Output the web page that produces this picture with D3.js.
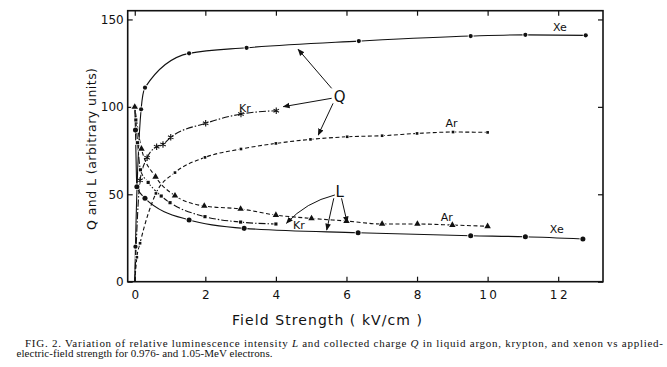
<!DOCTYPE html>
<html>
<head>
<meta charset="utf-8">
<script src="https://cdn.jsdelivr.net/npm/d3@7"></script>
<style>
  body { margin: 0; background: #fff; }
  svg { display: block; }
</style>
</head>
<body>
<div class="container"></div>
<script>
// ---- data (field strength kV/cm, arbitrary units) ----
var xeQx = [0, 0.02, 0.18, 0.29, 1.54, 3.17, 6.35, 9.52, 11.07, 12.78];
var xeQy = [0, 20, 98.6, 111, 130.6, 133.8, 137.6, 140.5, 141.2, 140.9];

var krQx = [0, 0.15, 0.35, 0.62, 0.8, 1.02, 2.01, 3.01, 4.01];
var krQy = [0, 58, 70.9, 77.2, 78.5, 82.6, 90.6, 95.9, 97.8];

var arQx = [0, 0.06, 0.15, 0.6, 1.14, 1.99, 3.01, 4.0, 4.98, 6.02, 7.01, 8.0, 9.02, 10.0];
var arQy = [0, 14, 22, 50.5, 62.4, 71.1, 75.9, 79.1, 81.4, 82.9, 83.5, 84.8, 85.6, 85.4];

var xeLx = [0, 0.02, 0.06, 0.29, 1.54, 3.1, 6.33, 9.52, 11.07, 12.7];
var xeLy = [100, 86.7, 54.3, 47.7, 35.3, 30.5, 28.0, 26.3, 25.7, 24.4];

var krLx = [0, 0.03, 0.08, 0.16, 0.38, 0.75, 1.0, 1.99, 3.0, 4.0];
var krLy = [100, 92.5, 79.5, 64, 56.8, 49, 45.2, 37.2, 34.1, 33.0];

var arLx = [0, 0.19, 0.59, 1.14, 1.97, 3.0, 4.0, 5.01, 6.0, 7.01, 8.01, 9.0, 10.0];
var arLy = [100, 76, 60, 49.2, 43.3, 41.6, 38.1, 36.2, 34.7, 33.0, 33.0, 32.4, 31.7];

var xTicks = [0, 2, 4, 6, 8, 10, 12];
var yTicks = [0, 50, 100, 150];

var labelText = ['Xe', 'Kr', 'Ar', 'Kr', 'Ar', 'Xe'];
var labelX = [12.05, 3.12, 8.98, 4.65, 8.84, 11.96];
var labelY = [145.8, 99.3, 90.7, 32.4, 37.2, 30.1];

// Q and L pointers: letter position, then arrows (from -> to), in data units
var groupText = ['Q', 'L'];
var groupX = [5.81, 5.81];
var groupY = [105.6, 51.5];
var arrowFromX = [5.58, 5.58, 5.62, 5.67, 5.64, 5.86];
var arrowFromY = [110.6, 104.9, 102.0, 49.6, 47.7, 47.7];
var arrowToX = [4.63, 4.21, 5.2, 4.30, 5.44, 6.02];
var arrowToY = [132.9, 100.1, 83.9, 33.4, 29.6, 33.7];
var arrowBendX = [null, null, null, 4.85, null, null];
var arrowBendY = [null, null, null, 45.5, null, null];

const WIDTH = 667;
const HEIGHT = 367;
const INK = '#111';

var zip = function (xs, ys) {
  return xs.map(function (x, i) { return [x, ys[i]]; });
};

var series = [
  { pts: zip(xeQx, xeQy), dash: null, sym: d3.symbolCircle, size: 14, fill: true },
  { pts: zip(krQx, krQy), dash: '7,2,1.5,2', sym: d3.symbolAsterisk, size: 28, fill: false },
  { pts: zip(arQx, arQy), dash: '4,2.5', sym: d3.symbolSquare, size: 7, fill: true },
  { pts: zip(xeLx, xeLy), dash: null, sym: d3.symbolCircle, size: 20, fill: true },
  { pts: zip(krLx, krLy), dash: '7,2,1.5,2', sym: d3.symbolSquare, size: 10, fill: true },
  { pts: zip(arLx, arLy), dash: '4,2.5', sym: d3.symbolTriangle, size: 18, fill: true }
];

var svg = d3.select('.container').append('svg')
    .attr('width', WIDTH)
    .attr('height', HEIGHT)
    .style('background', '#fff');

var x = d3.scaleLinear().domain([-0.2, 13.27]).range([127.7, 603]);
var y = d3.scaleLinear().domain([0, 155]).range([281.7, 10.7]);

svg.append('defs').append('marker')
    .attr('id', 'head')
    .attr('viewBox', '0 0 10 10')
    .attr('refX', 9).attr('refY', 5)
    .attr('markerWidth', 7).attr('markerHeight', 7)
    .attr('markerUnits', 'userSpaceOnUse')
    .attr('orient', 'auto')
  .append('path')
    .attr('d', 'M0,1L10,5L0,9Z')
    .attr('fill', INK);

// axes: ticks inward on all four sides
var axisStyle = function (g) {
  g.select('.domain').remove();
  g.selectAll('line').attr('stroke', INK).attr('stroke-width', 1.2);
  g.selectAll('text')
      .attr('fill', INK)
      .style('font-family', '"DejaVu Sans", sans-serif')
      .style('font-size', '12px');
};

svg.append('g')
    .attr('transform', 'translate(0,' + y(0) + ')')
    .call(d3.axisBottom(x).tickValues(xTicks).tickSize(-5).tickPadding(9)
      .tickFormat(function (d) { return d >= 10 ? String(d).split('').join('\u2009') : d; }))
    .call(axisStyle);

svg.append('g')
    .attr('transform', 'translate(0,' + y(155) + ')')
    .call(d3.axisTop(x).tickValues(xTicks).tickSize(-5).tickFormat(''))
    .call(axisStyle);

svg.append('g')
    .attr('transform', 'translate(' + x(-0.2) + ',0)')
    .call(d3.axisLeft(y).tickValues(yTicks).tickSize(-5).tickPadding(4))
    .call(axisStyle);

svg.append('g')
    .attr('transform', 'translate(' + x(13.27) + ',0)')
    .call(d3.axisRight(y).tickValues(yTicks).tickSize(-5).tickFormat(''))
    .call(axisStyle);

svg.append('rect')
    .attr('x', x(-0.2)).attr('y', y(155))
    .attr('width', x(13.27) - x(-0.2))
    .attr('height', y(0) - y(155))
    .attr('fill', 'none')
    .attr('stroke', INK)
    .attr('stroke-width', 1.6);

// curves
var line = d3.line()
    .x(function (d) { return x(d[0]); })
    .y(function (d) { return y(d[1]); })
    .curve(d3.curveMonotoneX);

var plot = svg.append('g');

series.forEach(function (s) {
  plot.append('path')
      .attr('d', line(s.pts))
      .attr('fill', 'none')
      .attr('stroke', INK)
      .attr('stroke-width', 1.1)
      .attr('stroke-dasharray', s.dash);
});

series.forEach(function (s) {
  plot.selectAll(null)
      .data(s.pts.filter(function (d) { return d[0] > 0 || d[1] > 0; }))
    .enter().append('path')
      .attr('transform', function (d) { return 'translate(' + x(d[0]) + ',' + y(d[1]) + ')'; })
      .attr('d', d3.symbol().type(s.sym).size(s.size))
      .attr('fill', s.fill ? INK : 'none')
      .attr('stroke', s.fill ? '#fff' : INK)
      .attr('stroke-width', s.fill ? 1.6 : 1.1)
      .style('paint-order', 'stroke');
});

// arrows
arrowFromX.forEach(function (fx, i) {
  var p = d3.path();
  p.moveTo(x(fx), y(arrowFromY[i]));
  if (arrowBendX[i] != null) {
    p.quadraticCurveTo(x(arrowBendX[i]), y(arrowBendY[i]), x(arrowToX[i]), y(arrowToY[i]));
  } else {
    p.lineTo(x(arrowToX[i]), y(arrowToY[i]));
  }
  svg.append('path')
      .attr('d', p.toString())
      .attr('fill', 'none')
      .attr('stroke', INK)
      .attr('stroke-width', 1)
      .attr('marker-end', 'url(#head)');
});

// text labels
svg.selectAll('.lbl')
    .data(labelText)
  .enter().append('text')
    .attr('x', function (d, i) { return x(labelX[i]); })
    .attr('y', function (d, i) { return y(labelY[i]); })
    .attr('dy', '0.35em')
    .attr('text-anchor', 'middle')
    .attr('fill', INK)
    .style('font-family', '"DejaVu Sans", sans-serif')
    .style('font-size', '11px')
    .text(function (d) { return d; });

svg.selectAll('.grp')
    .data(groupText)
  .enter().append('text')
    .attr('x', function (d, i) { return x(groupX[i]); })
    .attr('y', function (d, i) { return y(groupY[i]); })
    .attr('dy', '0.36em')
    .attr('text-anchor', 'middle')
    .attr('fill', INK)
    .style('font-family', '"DejaVu Sans", sans-serif')
    .style('font-size', '15px')
    .text(function (d) { return d; });

// axis titles
svg.append('text')
    .attr('transform', 'translate(92,149) rotate(-90)')
    .attr('text-anchor', 'middle')
    .attr('dy', '0.35em')
    .attr('textLength', 162)
    .attr('lengthAdjust', 'spacing')
    .attr('fill', INK)
    .style('font-family', '"DejaVu Sans", sans-serif')
    .style('font-size', '12.5px')
    .text('Q and L  (arbitrary units)');

svg.append('text')
    .attr('x', 327)
    .attr('y', 324.5)
    .attr('text-anchor', 'middle')
    .attr('textLength', 190)
    .attr('lengthAdjust', 'spacing')
    .attr('fill', INK)
    .style('font-family', '"DejaVu Sans", sans-serif')
    .style('font-size', '14px')
    .text('Field  Strength ( kV/cm )');

// caption
var caption = svg.append('g')
    .attr('fill', INK)
    .style('font-family', '"Liberation Serif", "Times New Roman", serif')
    .style('font-size', '11px');

var cap1 = caption.append('text')
    .attr('x', 25).attr('y', 346.5)
    .attr('textLength', 638)
    .attr('lengthAdjust', 'spacing');
cap1.append('tspan').text('FIG. 2.  Variation of relative luminescence intensity ');
cap1.append('tspan').style('font-style', 'italic').text('L');
cap1.append('tspan').text(' and collected charge ');
cap1.append('tspan').style('font-style', 'italic').text('Q');
cap1.append('tspan').text(' in liquid argon, krypton, and xenon vs applied-');

caption.append('text')
    .attr('x', 16.5).attr('y', 357)
    .attr('textLength', 256)
    .attr('lengthAdjust', 'spacing')
    .text('electric-field strength for 0.976- and 1.05-MeV electrons.');
</script>
</body>
</html>
